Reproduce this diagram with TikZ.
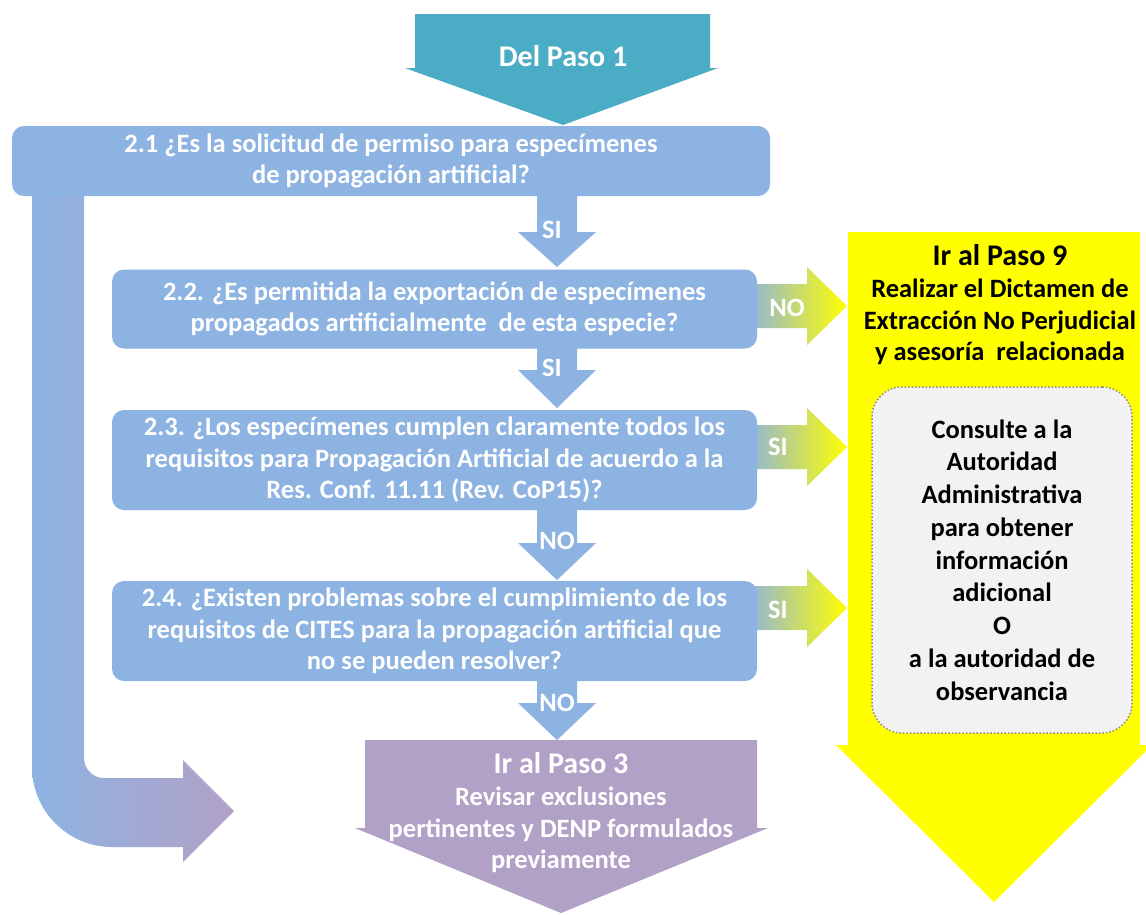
\documentclass[tikz,border=0pt]{standalone}
\usepackage{fontspec}
\setmainfont{Carlito}
\usetikzlibrary{calc}
\definecolor{tealpaso}{HTML}{4BACC6}
\definecolor{azulcaja}{HTML}{8DB3E2}
\definecolor{lila}{HTML}{B2A1C7}
\definecolor{amarillo}{HTML}{FFFF00}
\definecolor{grisfondo}{HTML}{F2F2F2}
\definecolor{grislinea}{HTML}{8C8C8C}
\newcommand{\boxfont}{\fontsize{26.5}{31.5}\selectfont\bfseries}
\newcommand{\grisfont}{\fontsize{26.5}{32.75}\selectfont\bfseries}
\newcommand{\titfont}{\fontsize{30}{34}\selectfont\bfseries}

\begin{document}
\begin{tikzpicture}[x=1pt,y=-1pt,
	caja/.style={rectangle, rounded corners=12pt, fill=azulcaja, text=white, align=center, font=\boxfont},
	etiqueta/.style={text=white, font=\boxfont, inner sep=0pt}]
	\useasboundingbox (0,0) rectangle (1146,914);
	\fill [white] (0,0) rectangle (1146,914);

	%return arrow 2.1 -> paso 3
	\shade [left color=azulcaja, middle color=azulcaja, right color=lila] (32,190) -- (32,767) .. controls (32,811) and (68,847) .. (112,847) -- (183,847) -- (183,862) -- (234,811) -- (183,760) -- (183,778) -- (104,778) .. controls (93,778) and (84,769) .. (84,758) -- (84,190) -- cycle;

	%del paso 1
	\fill [tealpaso] (415,14) -- (710,14) -- (710,68) -- (718,68) -- (563,125) -- (405,68) -- (415,68) -- cycle;
	\node at (563,56) (paso1) [text=white, font=\titfont] {Del Paso 1};

	%paso 9
	\fill [amarillo] (848,232) -- (1140,232) -- (1140,745) -- (1152,745) -- (994,902) -- (836,745) -- (848,745) -- cycle;

	%paso 3
	\fill [lila] (365,740) -- (757,740) -- (757,828) -- (768,828) -- (561,913) -- (355,828) -- (365,828) -- cycle;

	%down arrows
	\foreach \ya/\yb/\yc in {190/232/267, 340/370/408, 500/543/580, 672/703/740} {
		\fill [azulcaja] (537,\ya) -- (577,\ya) -- (577,\yb) -- (596,\yb) -- (557,\yc) -- (518,\yb) -- (537,\yb) -- cycle;
	}
	%right arrows
	\foreach \ym in {306,447,608} {
		\shade [left color=azulcaja, right color=amarillo] (745,\ym-22) -- (807,\ym-22) -- (807,\ym-39) -- (847,\ym) -- (807,\ym+39) -- (807,\ym+22) -- (745,\ym+22) -- cycle;
	}

	%questions
	\node at (391,161) (p21) [caja, minimum width=758pt, minimum height=70pt] {2.1 ¿Es la solicitud de permiso para especímenes\\de propagación artificial?};
	\node at (434.5,309) (p22) [caja, minimum width=645pt, minimum height=79pt] {2.2. ¿Es permitida la exportación de especímenes\\propagados artificialmente~ de esta especie?};
	\node at (434.5,460) (p23) [caja, minimum width=645pt, minimum height=100pt] {2.3. ¿Los especímenes cumplen claramente todos los\\requisitos para Propagación Artificial de acuerdo a la\\Res. Conf. 11.11 (Rev. CoP15)?};
	\node at (434.5,631) (p24) [caja, minimum width=645pt, minimum height=100pt] {2.4. ¿Existen problemas sobre el cumplimiento de los\\requisitos de CITES para la propagación artificial que\\no se pueden resolver?};

	%answers
	\node at (552,230) (si21) [etiqueta] {SI};
	\node at (552,368) (si22) [etiqueta] {SI};
	\node at (557,541) (no23) [etiqueta] {NO};
	\node at (557,703) (no24) [etiqueta] {NO};
	\node at (787,308) (no22) [etiqueta] {NO};
	\node at (778,447) (si23) [etiqueta] {SI};
	\node at (778,610) (si24) [etiqueta] {SI};

	%paso 9 text
	\node at (1000,255) (paso9) [font=\titfont] {Ir al Paso 9};
	\node at (1000,322) (dictamen) [align=center, font=\boxfont] {Realizar el Dictamen de\\Extracción No Perjudicial\\y asesoría~ relacionada};
	\node at (1002,560) (consulte) [rectangle, rounded corners=30pt, fill=grisfondo, draw=grislinea, dotted, line width=1.5pt, minimum width=260pt, minimum height=346pt, align=center, font=\grisfont] {Consulte a la\\Autoridad\\Administrativa\\para obtener\\información\\adicional\\O\\a la autoridad de\\observancia};

	%paso 3 text
	\node at (561,763) (paso3) [text=white, font=\titfont] {Ir al Paso 3};
	\node at (561,830) (revisar) [text=white, align=center, font=\boxfont] {Revisar exclusiones\\pertinentes y DENP formulados\\previamente};
\end{tikzpicture}
\end{document}
